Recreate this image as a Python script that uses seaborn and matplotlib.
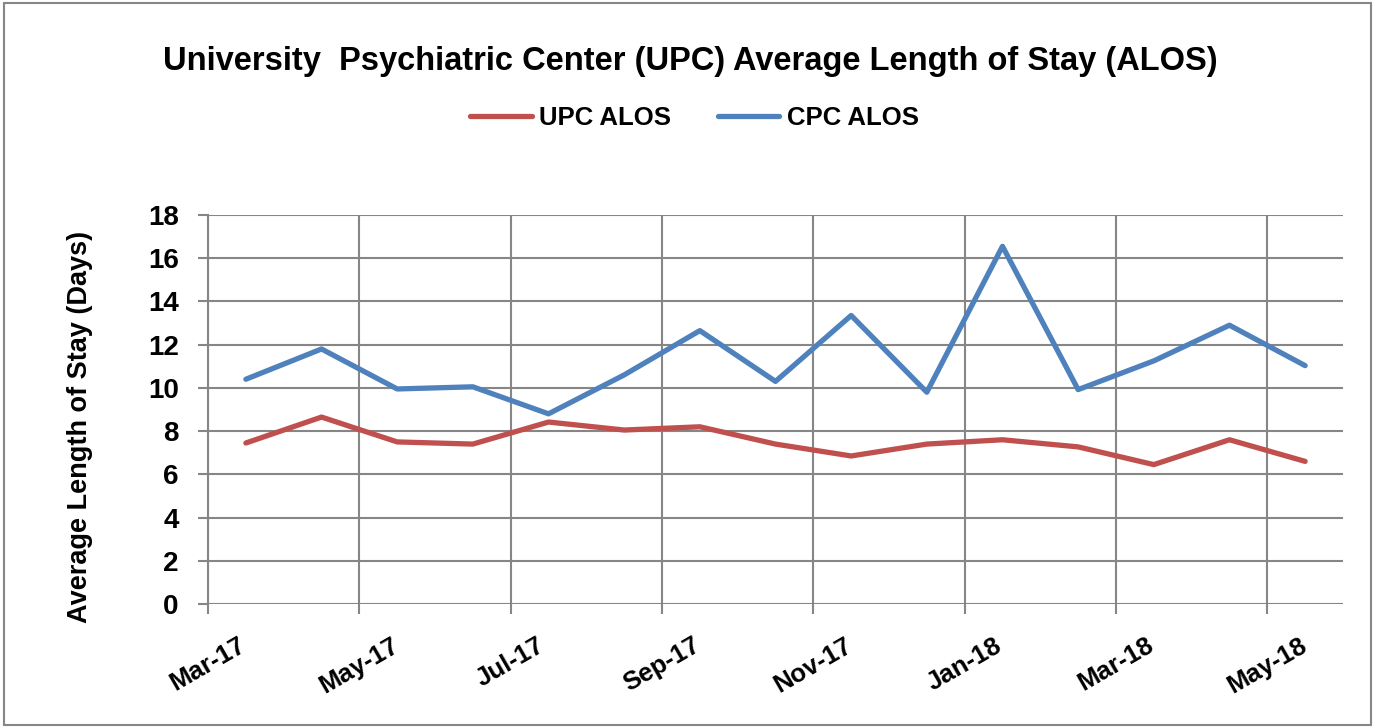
import matplotlib
matplotlib.use("Agg")
import matplotlib.pyplot as plt
import numpy as np
import pandas as pd
import seaborn as sns
from matplotlib.patches import Rectangle

months = ["Mar-17", "Apr-17", "May-17", "Jun-17", "Jul-17", "Aug-17", "Sep-17", "Oct-17",
          "Nov-17", "Dec-17", "Jan-18", "Feb-18", "Mar-18", "Apr-18", "May-18"]
upc_alos = [7.45, 8.65, 7.5, 7.4, 8.42, 8.05, 8.2, 7.4, 6.85, 7.4, 7.6, 7.27, 6.45, 7.6, 6.6]
cpc_alos = [10.4, 11.8, 9.95, 10.05, 8.8, 10.6, 12.65, 10.3, 13.35, 9.8, 16.55, 9.92, 11.25, 12.9, 11.03]
tick_labels = months[::2]

sns.set_style("white")
plt.rcParams["font.family"] = ["Liberation Sans", "DejaVu Sans"]
plt.rcParams["font.weight"] = "bold"
plt.rcParams["text.color"] = "black"
plt.rcParams["xtick.color"] = "black"
plt.rcParams["ytick.color"] = "black"
plt.rcParams["axes.labelcolor"] = "black"

# points sit in the middle of each month, like Excel's date axis
pos = np.arange(len(months)) + 0.5
df = pd.DataFrame({
    "pos": np.concatenate([pos, pos]),
    "value": upc_alos + cpc_alos,
    "series": ["UPC ALOS"] * len(months) + ["CPC ALOS"] * len(months),
})
palette = {"UPC ALOS": "#C0504D", "CPC ALOS": "#4F81BD"}

fig = plt.figure(figsize=(13.75, 7.28), dpi=100)
ax = fig.add_axes([0.1513, 0.1703, 0.8254, 0.5344])

sns.lineplot(data=df, x="pos", y="value", hue="series", palette=palette,
             linewidth=3.8, ax=ax, legend=False, solid_capstyle="round")

ax.set_xlim(0, len(months))
ax.set_ylim(0, 18)
ax.set_yticks(np.arange(0, 19, 2))
ax.set_xticks(np.arange(0, len(months), 2))
ax.set_xticklabels(tick_labels, rotation=30, ha="center", va="top", fontsize=18.5, fontweight="bold")
ax.set_yticklabels([str(v) for v in range(0, 19, 2)], fontsize=20, fontweight="bold")
ax.tick_params(axis="x", length=7, width=1.5, color="#868686", pad=14, bottom=True)
ax.tick_params(axis="y", length=7, width=1.5, color="#868686", pad=14, left=True)
ax.grid(True, color="#868686", linewidth=1.5)
for side in ["top", "right", "bottom"]:
    ax.spines[side].set_visible(False)
ax.spines["left"].set_color("#868686")
ax.spines["left"].set_linewidth(1.5)
ax.set_xlabel("")
ax.set_ylabel("Average Length of Stay (Days)", fontsize=19.5, fontweight="bold")
ax.yaxis.set_label_coords(-0.101, 0.455)

fig.text(0.502, 0.915, "University  Psychiatric Center (UPC) Average Length of Stay (ALOS)",
         ha="center", va="center", fontsize=23.5, fontweight="bold")

handles = [plt.Line2D([], [], color=palette[s], linewidth=3.8, solid_capstyle="round")
           for s in ["UPC ALOS", "CPC ALOS"]]
fig.legend(handles, ["UPC ALOS", "CPC ALOS"], loc="center", bbox_to_anchor=(0.505, 0.838),
           ncol=2, frameon=False, handlelength=2.4, handletextpad=0.3,
           columnspacing=1.8, prop={"weight": "bold", "size": 18.5})

fig.patches.append(Rectangle((0.003, 0.004), 0.994, 0.992, transform=fig.transFigure,
                             fill=False, edgecolor="#868686", linewidth=1.5))

plt.savefig("out.png", dpi=100)
plt.close(fig)
